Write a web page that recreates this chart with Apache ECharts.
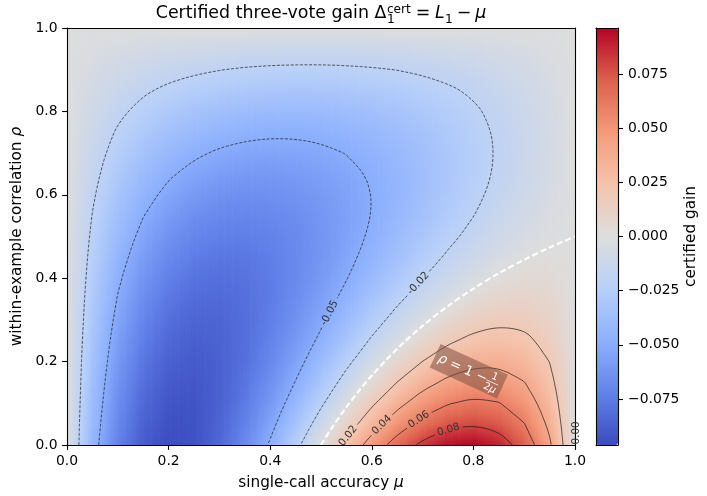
<!DOCTYPE html>
<html>
<head>
<meta charset="utf-8">
<script src="https://cdn.jsdelivr.net/npm/echarts@6.0.0/dist/echarts.min.js"></script>
<style>
html,body{margin:0;padding:0;background:#ffffff;}
#chart{width:707px;height:496px;}
</style>
</head>
<body>
<div id="chart"></div>
<script>
// ---------------- data ----------------
const muValues  = [0.00,0.05,0.10,0.15,0.20,0.25,0.30,0.35,0.40,0.45,0.50,0.55,0.60,0.65,0.70,0.75,0.80,0.85,0.90,0.95,1.00];
const rhoValues = [0.00,0.05,0.10,0.15,0.20,0.25,0.30,0.35,0.40,0.45,0.50,0.55,0.60,0.65,0.70,0.75,0.80,0.85,0.90,0.95,1.00];
// gainByMu[i][j] = certified gain at mu = muValues[i], rho = rhoValues[j]
const gainByMu = [
  [0,0,0,0,0,0,0,0,0,0,0,0,0,0,0,0,0,0,0,0,0],
  [-0.0428,-0.0408,-0.0389,-0.0369,-0.0350,-0.0330,-0.0309,-0.0289,-0.0268,-0.0247,-0.0226,-0.0204,-0.0182,-0.0160,-0.0138,-0.0116,-0.0093,-0.0070,-0.0047,-0.0024,0],
  [-0.0720,-0.0693,-0.0664,-0.0635,-0.0605,-0.0574,-0.0542,-0.0509,-0.0475,-0.0441,-0.0405,-0.0369,-0.0331,-0.0293,-0.0254,-0.0214,-0.0173,-0.0131,-0.0088,-0.0045,0],
  [-0.0893,-0.0866,-0.0838,-0.0807,-0.0775,-0.0741,-0.0705,-0.0667,-0.0627,-0.0586,-0.0542,-0.0496,-0.0449,-0.0399,-0.0348,-0.0295,-0.0240,-0.0183,-0.0124,-0.0063,0],
  [-0.0960,-0.0942,-0.0922,-0.0898,-0.0870,-0.0840,-0.0806,-0.0770,-0.0730,-0.0686,-0.0640,-0.0590,-0.0538,-0.0482,-0.0422,-0.0360,-0.0294,-0.0226,-0.0154,-0.0078,0],
  [-0.0938,-0.0935,-0.0928,-0.0916,-0.0900,-0.0879,-0.0853,-0.0823,-0.0788,-0.0748,-0.0703,-0.0654,-0.0600,-0.0541,-0.0478,-0.0410,-0.0338,-0.0260,-0.0178,-0.0091,0],
  [-0.0840,-0.0858,-0.0869,-0.0875,-0.0874,-0.0866,-0.0853,-0.0833,-0.0806,-0.0774,-0.0735,-0.0690,-0.0638,-0.0581,-0.0517,-0.0446,-0.0370,-0.0287,-0.0197,-0.0102,0],
  [-0.0683,-0.0724,-0.0758,-0.0783,-0.0801,-0.0810,-0.0812,-0.0806,-0.0792,-0.0770,-0.0739,-0.0701,-0.0655,-0.0601,-0.0539,-0.0469,-0.0391,-0.0305,-0.0212,-0.0110,0],
  [-0.0480,-0.0547,-0.0605,-0.0653,-0.0691,-0.0720,-0.0739,-0.0749,-0.0749,-0.0739,-0.0720,-0.0691,-0.0653,-0.0605,-0.0547,-0.0480,-0.0403,-0.0317,-0.0221,-0.0115,0],
  [-0.0248,-0.0341,-0.0423,-0.0494,-0.0554,-0.0603,-0.0641,-0.0668,-0.0683,-0.0687,-0.0681,-0.0663,-0.0634,-0.0593,-0.0542,-0.0480,-0.0406,-0.0321,-0.0225,-0.0118,0],
  [0,-0.0119,-0.0225,-0.0319,-0.0400,-0.0469,-0.0525,-0.0569,-0.0600,-0.0619,-0.0625,-0.0619,-0.0600,-0.0569,-0.0525,-0.0469,-0.0400,-0.0319,-0.0225,-0.0119,0],
  [0.0248,0.0106,-0.0022,-0.0137,-0.0238,-0.0325,-0.0398,-0.0458,-0.0505,-0.0538,-0.0557,-0.0562,-0.0554,-0.0533,-0.0497,-0.0449,-0.0386,-0.0310,-0.0220,-0.0117,0],
  [0.0480,0.0319,0.0173,0.0041,-0.0077,-0.0180,-0.0269,-0.0343,-0.0403,-0.0449,-0.0480,-0.0497,-0.0499,-0.0487,-0.0461,-0.0420,-0.0365,-0.0295,-0.0211,-0.0113,0],
  [0.0683,0.0508,0.0348,0.0203,0.0073,-0.0043,-0.0143,-0.0229,-0.0300,-0.0357,-0.0398,-0.0425,-0.0437,-0.0434,-0.0416,-0.0384,-0.0337,-0.0275,-0.0198,-0.0106,0],
  [0.0840,0.0658,0.0491,0.0339,0.0202,0.0079,-0.0029,-0.0123,-0.0202,-0.0266,-0.0315,-0.0350,-0.0370,-0.0375,-0.0365,-0.0341,-0.0302,-0.0249,-0.0181,-0.0098,0],
  [0.0938,0.0757,0.0591,0.0438,0.0300,0.0176,0.0066,-0.0030,-0.0113,-0.0180,-0.0234,-0.0274,-0.0300,-0.0312,-0.0309,-0.0293,-0.0263,-0.0218,-0.0159,-0.0087,0],
  [0.0960,0.0790,0.0634,0.0490,0.0358,0.0240,0.0134,0.0042,-0.0038,-0.0106,-0.0160,-0.0202,-0.0230,-0.0246,-0.0250,-0.0240,-0.0218,-0.0182,-0.0134,-0.0074,0],
  [0.0893,0.0745,0.0608,0.0482,0.0367,0.0263,0.0170,0.0087,0.0015,-0.0046,-0.0096,-0.0135,-0.0163,-0.0181,-0.0187,-0.0183,-0.0168,-0.0142,-0.0106,-0.0058,0],
  [0.0720,0.0607,0.0502,0.0405,0.0317,0.0236,0.0164,0.0099,0.0043,-0.0005,-0.0045,-0.0077,-0.0101,-0.0117,-0.0124,-0.0124,-0.0115,-0.0099,-0.0074,-0.0041,0],
  [0.0428,0.0363,0.0304,0.0248,0.0198,0.0151,0.0110,0.0073,0.0040,0.0012,-0.0012,-0.0031,-0.0046,-0.0056,-0.0061,-0.0062,-0.0059,-0.0051,-0.0038,-0.0021,0],
  [0,0,0,0,0,0,0,0,0,0,0,0,0,0,0,0,0,0,0,0,0]
];
const contourLevels = [-0.05, -0.02, 0.02, 0.04, 0.06, 0.08];
// white dashed boundary rho = 1 - 1/(2 mu)
const boundaryMu  = [0.50, 0.52, 0.55, 0.575, 0.60, 0.65, 0.70, 0.75, 0.80, 0.85, 0.90, 0.95, 1.00];
const boundaryRho = [0.000, 0.0385, 0.0909, 0.1304, 0.1667, 0.2308, 0.2857, 0.3333, 0.3750, 0.4118, 0.4444, 0.4737, 0.5000];
const axisTicks = [0.0, 0.2, 0.4, 0.6, 0.8, 1.0];
const colorbarTicks = [-0.075, -0.050, -0.025, 0.000, 0.025, 0.050, 0.075];
const gainMin = -0.0962, gainMax = 0.0962;

// ---------------- layout & style ----------------
const FONT = 'DejaVu Sans';
const G  = {left: 67, top: 28, width: 508, height: 417};
const CB = {left: 596, top: 28, width: 22, height: 417};
const coolwarm = ['#3b4cc0','#6282ea','#8db0fe','#b8d0f9','#dddddd','#f5c4ad','#f49a7b','#de604d','#b40426'];
const contourLabelAnchors = [
  {level: -0.05, mu: 0.516, rho: 0.317},
  {level: -0.02, mu: 0.691, rho: 0.388},
  {level:  0.02, mu: 0.551, rho: 0.024},
  {level:  0.04, mu: 0.620, rho: 0.048},
  {level:  0.06, mu: 0.692, rho: 0.062},
  {level:  0.08, mu: 0.751, rho: 0.036}
];
const annotationAnchor = {mu: 0.791, rho: 0.177, angle: -0.43};

const chart = echarts.init(document.getElementById('chart'), null, {renderer: 'canvas', width: 707, height: 496});

function gainColor(v) {
  let t = (v - gainMin) / (gainMax - gainMin);
  t = Math.max(0, Math.min(1, t));
  return echarts.color.lerp(t, coolwarm);
}
const mctx = document.createElement('canvas').getContext('2d');
function textW(t, size, italic) {
  mctx.font = (italic ? 'italic ' : '') + size + 'px "' + FONT + '"';
  return mctx.measureText(t).width;
}
function fontStr(size, italic) { return (italic ? 'italic ' : '') + size + 'px "' + FONT + '"'; }

const lineSt = {color: '#000', width: 1.1};
function frameAxis(extra) {
  return Object.assign({
    type: 'value', z: 10, min: 0, max: 1,
    axisLine: {show: true, onZero: false, lineStyle: lineSt},
    axisTick: {show: false}, axisLabel: {show: false}, splitLine: {show: false}
  }, extra);
}

const baseOption = {
  animation: false,
  backgroundColor: '#ffffff',
  textStyle: {fontFamily: FONT},
  grid: [
    {left: G.left, top: G.top, width: G.width, height: G.height, containLabel: false, outerBoundsMode: 'none'},
    {left: CB.left, top: CB.top, width: CB.width, height: CB.height, containLabel: false, outerBoundsMode: 'none'}
  ],
  xAxis: [
    {
      gridIndex: 0, type: 'value', min: axisTicks[0], max: axisTicks[axisTicks.length - 1], interval: 0.2,
      position: 'bottom', z: 10,
      axisLine: {show: true, onZero: false, lineStyle: lineSt},
      axisTick: {show: true, length: 4.9, lineStyle: {color: '#000', width: 1.1}},
      axisLabel: {color: '#000', fontSize: 13.9, fontFamily: FONT, margin: 9.5, formatter: v => v.toFixed(1)},
      splitLine: {show: false},
      name: 'single-call accuracy {i|μ}', nameLocation: 'middle', nameGap: 30.5,
      nameTextStyle: {color: '#000', fontSize: 15.3, fontFamily: FONT,
        rich: {i: {fontStyle: 'italic', fontSize: 15.3, fontFamily: FONT, color: '#000'}}}
    },
    frameAxis({gridIndex: 0, position: 'top'}),
    frameAxis({gridIndex: 1, position: 'bottom'}),
    frameAxis({gridIndex: 1, position: 'top'})
  ],
  yAxis: [
    {
      gridIndex: 0, type: 'value', min: axisTicks[0], max: axisTicks[axisTicks.length - 1], interval: 0.2,
      position: 'left', z: 10,
      axisLine: {show: true, onZero: false, lineStyle: lineSt},
      axisTick: {show: true, length: 4.9, lineStyle: {color: '#000', width: 1.1}},
      axisLabel: {color: '#000', fontSize: 13.9, fontFamily: FONT, margin: 9.5, formatter: v => v.toFixed(1)},
      splitLine: {show: false},
      name: 'within-example correlation {i|ρ}', nameLocation: 'middle', nameGap: 34, nameRotate: 90,
      nameTextStyle: {color: '#000', fontSize: 15.3, fontFamily: FONT,
        rich: {i: {fontStyle: 'italic', fontSize: 15.3, fontFamily: FONT, color: '#000'}}}
    },
    frameAxis({gridIndex: 0, position: 'right'}),
    frameAxis({gridIndex: 1, position: 'left', min: gainMin, max: gainMax}),
    {
      gridIndex: 1, type: 'value', min: gainMin, max: gainMax, position: 'right', z: 10,
      axisLine: {show: true, onZero: false, lineStyle: lineSt},
      axisTick: {show: true, length: 4.9, lineStyle: {color: '#000', width: 1.1}, customValues: colorbarTicks},
      axisLabel: {color: '#000', fontSize: 13.9, fontFamily: FONT, margin: 10, customValues: colorbarTicks,
        formatter: v => (v < -1e-9 ? '\u2212' : '') + Math.abs(v).toFixed(3)},
      splitLine: {show: false},
      name: 'certified gain', nameLocation: 'middle', nameGap: 66, nameRotate: 90,
      nameTextStyle: {color: '#000', fontSize: 15.3, fontFamily: FONT}
    }
  ],
  visualMap: {
    type: 'continuous', min: gainMin, max: gainMax, dimension: 2, seriesIndex: 0,
    orient: 'vertical', left: CB.left, top: CB.top, itemWidth: CB.width, itemHeight: CB.height,
    padding: 0, text: null, showLabel: false, calculable: false, hoverLink: false, realtime: false,
    inRange: {color: coolwarm}
  },
  series: []
};
chart.setOption(baseOption);

// ---------------- heat field ----------------
const cellData = [];
for (let i = 0; i < muValues.length; i++) {
  for (let j = 0; j < rhoValues.length; j++) {
    cellData.push([muValues[i], rhoValues[j], gainByMu[i][j], i, j]);
  }
}
function renderCell(params, api) {
  const i = api.value(3), j = api.value(4);
  if (i >= muValues.length - 1 || j >= rhoValues.length - 1) return {type: 'group', children: []};
  const v00 = gainByMu[i][j], v10 = gainByMu[i + 1][j], v01 = gainByMu[i][j + 1], v11 = gainByMu[i + 1][j + 1];
  const p0 = api.coord([muValues[i], rhoValues[j]]);
  const p1 = api.coord([muValues[i + 1], rhoValues[j + 1]]);
  const K = 16, w = (p1[0] - p0[0]) / K, h = p0[1] - p1[1];
  const children = [];
  for (let k = 0; k < K; k++) {
    const tm = (k + 0.5) / K;
    const vb = v00 + (v10 - v00) * tm, vt = v01 + (v11 - v01) * tm;
    children.push({
      type: 'rect', silent: true,
      shape: {x: p0[0] + k * w, y: p1[1], width: w + 0.7, height: h + 0.7},
      style: {fill: new echarts.graphic.LinearGradient(0, 1, 0, 0, [
        {offset: 0, color: gainColor(vb)},
        {offset: 0.5, color: gainColor((vb + vt) / 2)},
        {offset: 1, color: gainColor(vt)}
      ])}
    });
  }
  return {type: 'group', children: children};
}

// ---------------- contours (marching squares on the grid) ----------------
function contourPolylines(level) {
  const nx = muValues.length, ny = rhoValues.length;
  const pts = {}, segs = [];
  const v = (i, j) => gainByMu[i][j];
  const above = (i, j) => v(i, j) > level;
  function ep(key, i1, j1, i2, j2) {
    if (!pts[key]) {
      const a = v(i1, j1), b = v(i2, j2), t = (level - a) / (b - a);
      pts[key] = [muValues[i1] + (muValues[i2] - muValues[i1]) * t, rhoValues[j1] + (rhoValues[j2] - rhoValues[j1]) * t];
    }
    return key;
  }
  for (let i = 0; i < nx - 1; i++) {
    for (let j = 0; j < ny - 1; j++) {
      const A = above(i, j), B = above(i + 1, j), C = above(i + 1, j + 1), D = above(i, j + 1);
      const e = [
        A !== B ? ep('h' + i + '_' + j, i, j, i + 1, j) : null,
        B !== C ? ep('v' + (i + 1) + '_' + j, i + 1, j, i + 1, j + 1) : null,
        D !== C ? ep('h' + i + '_' + (j + 1), i, j + 1, i + 1, j + 1) : null,
        A !== D ? ep('v' + i + '_' + j, i, j, i, j + 1) : null
      ];
      const cr = e.filter(x => x);
      if (cr.length === 2) segs.push([cr[0], cr[1]]);
      else if (cr.length === 4) {
        const center = (v(i, j) + v(i + 1, j) + v(i + 1, j + 1) + v(i, j + 1)) / 4 > level;
        if (center === A) { segs.push([e[0], e[1]]); segs.push([e[2], e[3]]); }
        else { segs.push([e[0], e[3]]); segs.push([e[1], e[2]]); }
      }
    }
  }
  const byKey = {};
  segs.forEach((s, k) => s.forEach(key => { (byKey[key] = byKey[key] || []).push(k); }));
  const used = segs.map(() => false), lines = [];
  for (let k = 0; k < segs.length; k++) {
    if (used[k]) continue;
    used[k] = true;
    const chain = [segs[k][0], segs[k][1]];
    let cur = segs[k][1];
    while (true) {
      const n = (byKey[cur] || []).find(m => !used[m]);
      if (n === undefined) break;
      used[n] = true; cur = segs[n][0] === cur ? segs[n][1] : segs[n][0]; chain.push(cur);
    }
    cur = segs[k][0];
    while (true) {
      const n = (byKey[cur] || []).find(m => !used[m]);
      if (n === undefined) break;
      used[n] = true; cur = segs[n][0] === cur ? segs[n][1] : segs[n][0]; chain.unshift(cur);
    }
    lines.push(chain.map(key => pts[key]));
  }
  return lines;
}
const toPx = p => chart.convertToPixel({gridIndex: 0}, p);
const fromPx = q => chart.convertFromPixel({gridIndex: 0}, q);

// corner-cutting so the derived contour path is drawn as a smooth curve
function chaikin(pts, iterations) {
  let p = pts;
  for (let it = 0; it < iterations; it++) {
    if (p.length < 3) return p;
    const q = [p[0]];
    for (let k = 0; k < p.length - 1; k++) {
      const A = p[k], B = p[k + 1];
      q.push([0.75 * A[0] + 0.25 * B[0], 0.75 * A[1] + 0.25 * B[1]]);
      q.push([0.25 * A[0] + 0.75 * B[0], 0.25 * A[1] + 0.75 * B[1]]);
    }
    q.push(p[p.length - 1]);
    p = q;
  }
  return p;
}

function clipPoly(pts, C, r) {
  const out = []; let cur = [];
  const inside = p => (p[0] - C[0]) ** 2 + (p[1] - C[1]) ** 2 < r * r;
  const lerp = (A, B, t) => [A[0] + (B[0] - A[0]) * t, A[1] + (B[1] - A[1]) * t];
  if (!inside(pts[0])) cur.push(pts[0]);
  for (let k = 0; k < pts.length - 1; k++) {
    const A = pts[k], B = pts[k + 1];
    const d = [B[0] - A[0], B[1] - A[1]], f = [A[0] - C[0], A[1] - C[1]];
    const a = d[0] * d[0] + d[1] * d[1], b = 2 * (f[0] * d[0] + f[1] * d[1]), c = f[0] * f[0] + f[1] * f[1] - r * r;
    const disc = b * b - 4 * a * c;
    if (a > 0 && disc > 0) {
      const sq = Math.sqrt(disc), t1 = (-b - sq) / (2 * a), t2 = (-b + sq) / (2 * a);
      if (t1 > 0 && t1 < 1) { cur.push(lerp(A, B, t1)); if (cur.length > 1) out.push(cur); cur = []; }
      if (t2 > 0 && t2 < 1) { cur = [lerp(A, B, t2)]; }
    }
    if (!inside(B)) cur.push(B);
  }
  if (cur.length > 1) out.push(cur);
  return out;
}

const series = [{
  type: 'custom', coordinateSystem: 'cartesian2d', xAxisIndex: 0, yAxisIndex: 0,
  data: cellData, renderItem: renderCell, clip: true, silent: true, z: 1,
  encode: {x: 0, y: 1}
}];
const graphics = [];
const LABEL_SIZE = 10.4;

contourLevels.forEach(level => {
  let polys = contourPolylines(level).map(pl => chaikin(pl.map(toPx), 3));
  contourLabelAnchors.filter(a => a.level === level).forEach(a => {
    const P = toPx([a.mu, a.rho]);
    let best = null;
    polys.forEach(pl => {
      for (let k = 0; k < pl.length - 1; k++) {
        const A = pl[k], B = pl[k + 1];
        const dx = B[0] - A[0], dy = B[1] - A[1], L2 = dx * dx + dy * dy;
        let t = L2 > 0 ? ((P[0] - A[0]) * dx + (P[1] - A[1]) * dy) / L2 : 0;
        t = Math.max(0, Math.min(1, t));
        const q = [A[0] + dx * t, A[1] + dy * t];
        const dist = (q[0] - P[0]) ** 2 + (q[1] - P[1]) ** 2;
        if (!best || dist < best.dist) best = {dist, q, dx, dy};
      }
    });
    if (!best) return;
    let ang = Math.atan2(-best.dy, best.dx);
    if (ang > Math.PI / 2) ang -= Math.PI;
    if (ang < -Math.PI / 2) ang += Math.PI;
    const text = level.toFixed(2);
    const w = textW(text, LABEL_SIZE, false);
    graphics.push({
      type: 'text', x: best.q[0], y: best.q[1], rotation: ang, z: 50, silent: true,
      style: {text: text, fill: '#333333', font: fontStr(LABEL_SIZE, false),
        align: 'center', textAlign: 'center', verticalAlign: 'middle', textVerticalAlign: 'middle'}
    });
    polys = polys.flatMap(pl => clipPoly(pl, best.q, w / 2 + 3));
  });
  polys.forEach(pl => {
    series.push({
      type: 'line', xAxisIndex: 0, yAxisIndex: 0, data: pl.map(fromPx),
      showSymbol: false, symbol: 'none', smooth: false, silent: true, clip: true, z: 3,
      lineStyle: {color: 'rgba(20,20,20,0.75)', width: 0.9, type: level < 0 ? [3, 1.6] : 'solid'}
    });
  });
});

// white dashed boundary
series.push({
  type: 'line', xAxisIndex: 0, yAxisIndex: 0,
  data: boundaryMu.map((m, k) => [m, boundaryRho[k]]),
  showSymbol: false, symbol: 'none', smooth: 0.3, silent: true, clip: true, z: 5,
  lineStyle: {color: '#ffffff', width: 2.1, type: [6, 3]}
});

// partial contour label at right edge
const edgeP = toPx([1.0, 0.029]);
graphics.push({
  type: 'text', x: edgeP[0] + 1, y: edgeP[1], rotation: Math.PI / 2, z: 50, silent: true,
  style: {text: '0.00', fill: '#333333', font: fontStr(LABEL_SIZE, false),
    align: 'center', textAlign: 'center', verticalAlign: 'middle', textVerticalAlign: 'middle'}
});

// annotation box rho = 1 - 1/(2 mu)
const annP = toPx([annotationAnchor.mu, annotationAnchor.rho]);
const AZ = 60;
graphics.push({
  type: 'group', x: annP[0], y: annP[1], rotation: annotationAnchor.angle, z: AZ, silent: true,
  children: [
    {type: 'rect', z: AZ, shape: {x: -37, y: -13, width: 74, height: 26}, style: {fill: 'rgba(125,80,65,0.55)'}},
    {type: 'text', z: AZ + 1, x: -33, y: 0.5, style: {text: '{i|ρ} = 1 \u2212', fill: '#ffffff', font: fontStr(13.5, false),
      align: 'left', textAlign: 'left', verticalAlign: 'middle', textVerticalAlign: 'middle',
      rich: {i: {fontStyle: 'italic', fontSize: 13.5, fontFamily: FONT, fill: '#ffffff', color: '#ffffff'}}}},
    {type: 'text', z: AZ + 1, x: 26, y: -5.5, style: {text: '1', fill: '#ffffff', font: fontStr(10, false),
      align: 'center', textAlign: 'center', verticalAlign: 'middle', textVerticalAlign: 'middle'}},
    {type: 'line', z: AZ + 1, shape: {x1: 19.5, y1: 0.5, x2: 32.5, y2: 0.5}, style: {stroke: '#ffffff', lineWidth: 0.7}},
    {type: 'text', z: AZ + 1, x: 26, y: 7, style: {text: '2{i|μ}', fill: '#ffffff', font: fontStr(10, false),
      align: 'center', textAlign: 'center', verticalAlign: 'middle', textVerticalAlign: 'middle',
      rich: {i: {fontStyle: 'italic', fontSize: 10, fontFamily: FONT, fill: '#ffffff', color: '#ffffff'}}}}
  ]
});

// title with math pieces
(function () {
  const TS = 17.4, SS = 12.2, BASE = 18.5;
  const parts = [];
  let x = 0;
  function add(t, size, italic, dy) { parts.push({t, size, italic, x, dy}); x += textW(t, size, italic); }
  add('Certified three-vote gain ', TS, false, 0);
  add('\u0394', TS, false, 0);
  const xs = x + 0.5;
  parts.push({t: 'cert', size: SS, italic: false, x: xs, dy: -5.2});
  parts.push({t: '1', size: SS, italic: false, x: xs, dy: 5});
  x = xs + Math.max(textW('cert', SS, false), textW('1', SS, false));
  x += 4.8; add('=', TS, false, 0); x += 4.8;
  add('L', TS, true, 0);
  parts.push({t: '1', size: SS, italic: false, x: x + 0.3, dy: 5});
  x += textW('1', SS, false) + 0.3;
  x += 3.9; add('\u2212', TS, false, 0); x += 3.9;
  add('\u03bc', TS, true, 0);
  const x0 = G.left + G.width / 2 - x / 2;
  parts.forEach(p => {
    graphics.push({
      type: 'text', x: x0 + p.x, y: BASE + p.dy - 0.3 * p.size, z: 100, silent: true,
      style: {text: p.t, fill: '#000', font: fontStr(p.size, p.italic),
        align: 'left', textAlign: 'left', verticalAlign: 'middle', textVerticalAlign: 'middle'}
    });
  });
})();

chart.setOption({series: series, graphic: {elements: graphics}});
</script>
</body>
</html>
